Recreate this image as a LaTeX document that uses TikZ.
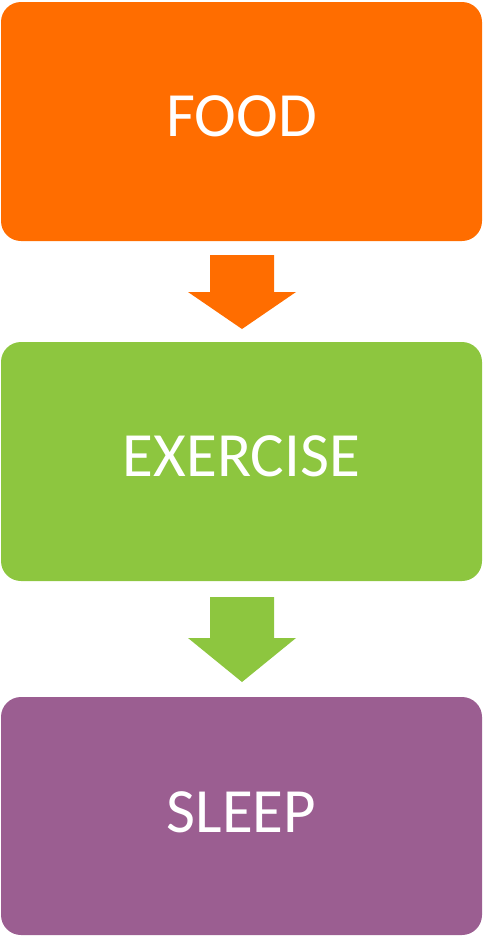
\documentclass[tikz,border=0pt]{standalone}
\usepackage{fontspec}
\setmainfont{Carlito}
\definecolor{foodorange}{HTML}{FF6D00}
\definecolor{exgreen}{HTML}{8DC63F}
\definecolor{sleeppurple}{HTML}{9B5E91}
\tikzset{
  stagebox/.style={draw=none, rounded corners=20pt},
  stagelabel/.style={text=white, font=\fontsize{63}{63}\selectfont, anchor=base, inner sep=0pt},
}
\begin{document}
\begin{tikzpicture}[x=1pt, y=-1pt]
  \useasboundingbox (0,0) rectangle (483,937);
  % stage boxes
  \fill[stagebox, fill=foodorange]  (1,2)   rectangle (482,241);
  \fill[stagebox, fill=exgreen]     (1,342) rectangle (482,581);
  \fill[stagebox, fill=sleeppurple] (1,697) rectangle (482,935);
  % labels
  \node[stagelabel] (food)     at (241.5,136) {FOOD};
  \node[stagelabel] (exercise) at (241.5,476) {EXERCISE};
  \node[stagelabel] (sleep)    at (241.5,832) {SLEEP};
  % block arrows between stages
  \fill[foodorange] (210,255) -- (274,255) -- (274,292) -- (296,292) -- (242,329)
        -- (188,292) -- (210,292) -- cycle;
  \fill[exgreen] (210,597) -- (274,597) -- (274,638) -- (296,638) -- (242,682)
        -- (188,638) -- (210,638) -- cycle;
\end{tikzpicture}
\end{document}
